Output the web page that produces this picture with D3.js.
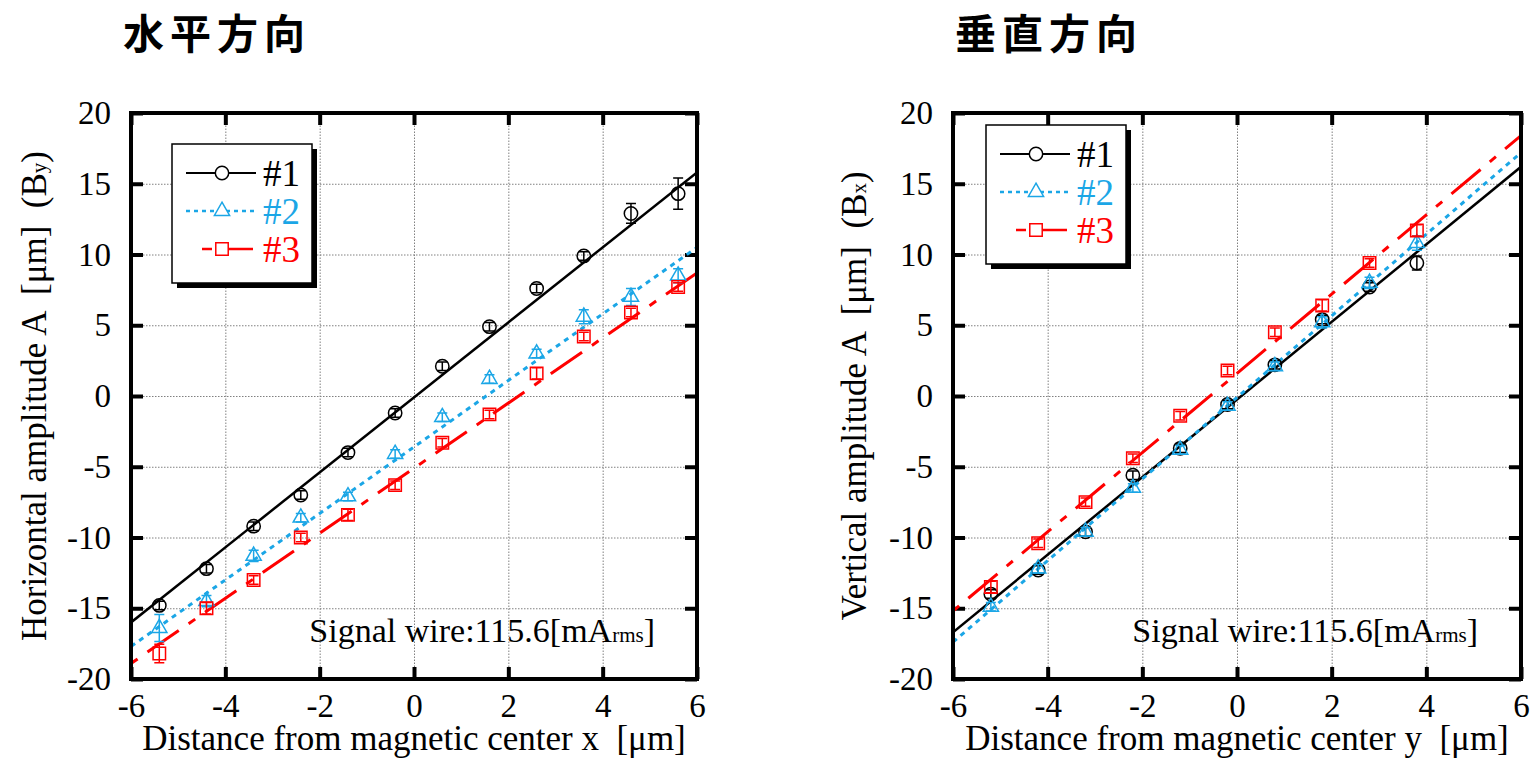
<!DOCTYPE html>
<html>
<head>
<meta charset="utf-8">
<script src="https://cdn.jsdelivr.net/npm/d3@7"></script>
<style>
  body { margin: 0; background: #fff; }
  svg { display: block; }
  .serif { font-family: "Liberation Serif", "Times New Roman", serif; white-space: pre; }
</style>
</head>
<body>
<svg id="chart" width="1533" height="760"></svg>
<script>
// ---- data ----
const seriesNames = ["#1", "#2", "#3"];
const xTicks = [-6, -4, -2, 0, 2, 4, 6];
const yTicks = [-20, -15, -10, -5, 0, 5, 10, 15, 20];

// horizontal (left panel)
const hX = [-5.4, -4.4, -3.4, -2.4, -1.4, -0.4, 0.6, 1.6, 2.6, 3.6, 4.6, 5.6];
const h1 = [-14.8, -12.2, -9.2, -7.0, -4.0, -1.2, 2.1, 4.9, 7.6, 9.9, 12.9, 14.3];
const h1Err = [0.3, 0.3, 0.3, 0.3, 0.3, 0.3, 0.3, 0.3, 0.3, 0.3, 0.7, 1.1];
const h2 = [-16.4, -14.5, -11.3, -8.6, -7.1, -4.1, -1.5, 1.2, 3.0, 5.6, 7.0, 8.5];
const h2Err = [0.95, 0.4, 0.4, 0.3, 0.3, 0.3, 0.3, 0.3, 0.3, 0.5, 0.6, 0.5];
const h3 = [-18.2, -15.0, -13.0, -10.0, -8.4, -6.3, -3.3, -1.3, 1.6, 4.2, 5.9, 7.7];
const h3Err = [0.65, 0.4, 0.3, 0.3, 0.4, 0.3, 0.3, 0.3, 0.4, 0.3, 0.3, 0.3];
// linear fits: value at x=-6 and x=6
const hFit1 = [-16.0, 15.8];
const hFit2 = [-17.7, 10.5];
const hFit3 = [-18.9, 8.7];

// vertical (right panel)
const vX = [-5.2, -4.2, -3.2, -2.2, -1.2, -0.2, 0.8, 1.8, 2.8, 3.8];
const v1 = [-14.0, -12.3, -9.6, -5.6, -3.7, -0.6, 2.2, 5.4, 7.7, 9.4];
const v1Err = [0.3, 0.3, 0.3, 0.3, 0.3, 0.3, 0.3, 0.3, 0.3, 0.5];
const v2 = [-14.9, -12.2, -9.6, -6.5, -3.8, -0.7, 2.1, 5.2, 8.0, 10.8];
const v2Err = [0.3, 0.3, 0.3, 0.3, 0.3, 0.3, 0.3, 0.4, 0.4, 0.5];
const v3 = [-13.5, -10.4, -7.5, -4.4, -1.4, 1.8, 4.5, 6.4, 9.4, 11.7];
const v3Err = [0.4, 0.3, 0.3, 0.3, 0.3, 0.3, 0.3, 0.4, 0.3, 0.4];
const vFit1 = [-16.7, 16.2];
const vFit2 = [-17.4, 17.2];
const vFit3 = [-15.2, 18.4];

const colors = ["#000000", "#1ba6e6", "#ff0000"];
const symbols = [d3.symbolCircle, d3.symbolTriangle, d3.symbolSquare];
const symbolSizes = [140, 100, 155];
const dashes = [null, "5,5", "38,12,8,12"];
const legendDashes = [null, "4,4", "0,16,10,15,26,20"];

const svg = d3.select("#chart");

function drawPanel(p) {
  const x = d3.scaleLinear().domain([-6, 6]).range([p.x0, p.x1]);
  const y = d3.scaleLinear().domain([-20, 20]).range([p.y1, p.y0]);
  const g = svg.append("g");
  const h = p.y1 - p.y0, w = p.x1 - p.x0;

  // title
  svg.append("text")
    .attr("x", p.titleX).attr("y", 49)
    .style("font-family", "'Noto Sans CJK JP', sans-serif")
    .style("font-weight", "bold")
    .style("font-size", "41px")
    .style("letter-spacing", "6px")
    .text(p.title);

  // grid
  g.append("g")
    .attr("transform", `translate(0,${p.y1})`)
    .call(d3.axisBottom(x).tickValues(xTicks.slice(1, -1)).tickSize(-h).tickFormat(""))
    .call(s => s.select(".domain").remove());
  g.append("g")
    .attr("transform", `translate(${p.x0},0)`)
    .call(d3.axisLeft(y).tickValues(yTicks.slice(1, -1)).tickSize(-w).tickFormat(""))
    .call(s => s.select(".domain").remove());
  g.selectAll(".tick line")
    .attr("stroke", "#808080")
    .attr("stroke-width", 1)
    .attr("stroke-dasharray", "1.5,1.5");

  // ticks, labels
  const tk = 12;
  const axes = g.append("g");
  axes.append("g").attr("transform", `translate(0,${p.y1})`)
    .call(d3.axisBottom(x).tickValues(xTicks).tickSize(-tk).tickPadding(15).tickFormat(d3.format("d")));
  axes.append("g").attr("transform", `translate(0,${p.y0})`)
    .call(d3.axisTop(x).tickValues(xTicks).tickSize(-tk).tickFormat(""));
  axes.append("g").attr("transform", `translate(${p.x0},0)`)
    .call(d3.axisLeft(y).tickValues(yTicks).tickSize(-tk).tickPadding(20).tickFormat(d3.format("d")));
  axes.append("g").attr("transform", `translate(${p.x1},0)`)
    .call(d3.axisRight(y).tickValues(yTicks).tickSize(-tk).tickFormat(""));
  axes.selectAll(".domain").remove();
  axes.selectAll(".tick line").attr("stroke", "#000").attr("stroke-width", 4);
  axes.selectAll(".tick text")
    .style("font-family", "'Liberation Serif', serif")
    .style("font-size", "33px")
    .attr("fill", "#000")
    .text(function () { return d3.select(this).text().replace("−", "-"); });

  // clip
  const clipId = "clip" + p.id;
  svg.append("clipPath").attr("id", clipId)
    .append("rect").attr("x", p.x0).attr("y", p.y0).attr("width", w).attr("height", h);

  const plot = g.append("g").attr("clip-path", `url(#${clipId})`);

  // fit lines
  p.fits.forEach((f, i) => {
    plot.append("line")
      .attr("x1", x(-6)).attr("y1", y(f[0]))
      .attr("x2", x(6)).attr("y2", y(f[1]))
      .attr("stroke", colors[i])
      .attr("stroke-width", i === 0 ? 2.5 : 3)
      .attr("stroke-dasharray", dashes[i])
      .attr("stroke-dashoffset", i === 2 ? 50 : 0);
  });

  // points with error bars
  p.series.forEach((s, i) => {
    const pts = p.xs.map((xv, k) => ({ x: xv, y: s.v[k], e: s.e[k] }));
    const sg = plot.append("g").attr("stroke", colors[i]).attr("fill", "none").attr("stroke-width", 1.5);
    sg.selectAll(".eb").data(pts).join("path")
      .attr("d", d => {
        const cx = x(d.x), lo = y(d.y - d.e), hi = y(d.y + d.e);
        return `M${cx - 5},${lo}H${cx + 5}M${cx},${lo}V${hi}M${cx - 5},${hi}H${cx + 5}`;
      });
    sg.selectAll(".mk").data(pts).join("path")
      .attr("transform", d => `translate(${x(d.x)},${y(d.y)})`)
      .attr("d", d3.symbol(symbols[i], symbolSizes[i]));
  });

  // frame
  g.append("rect")
    .attr("x", p.x0).attr("y", p.y0).attr("width", w).attr("height", h)
    .attr("fill", "none").attr("stroke", "#000").attr("stroke-width", 4);

  // annotation
  const ann = g.append("text").attr("class", "serif")
    .attr("x", p.annX).attr("y", 642)
    .attr("text-anchor", "end")
    .style("font-size", "34px");
  ann.append("tspan").text("Signal wire:115.6[mA");
  ann.append("tspan").style("font-size", "21px").text("rms");
  ann.append("tspan").text("]");

  // legend
  const lg = g.append("g").attr("transform", `translate(${p.lgX},${p.lgY})`);
  lg.append("rect").attr("x", 5).attr("y", 5).attr("width", 140).attr("height", 139).attr("fill", "#000");
  lg.append("rect").attr("x", 0).attr("y", 0).attr("width", 140).attr("height", 139)
    .attr("fill", "#fff").attr("stroke", "#000").attr("stroke-width", 1.5);
  seriesNames.forEach((name, i) => {
    const ry = 29 + i * 38;
    lg.append("line")
      .attr("x1", 14).attr("x2", 84).attr("y1", ry).attr("y2", ry)
      .attr("stroke", colors[i]).attr("stroke-width", i === 0 ? 2 : 2.5)
      .attr("stroke-dasharray", legendDashes[i]);
    lg.append("path")
      .attr("transform", `translate(50,${ry})`)
      .attr("d", d3.symbol(symbols[i], symbolSizes[i]))
      .attr("fill", "#fff").attr("stroke", colors[i]).attr("stroke-width", 1.5);
    lg.append("text").attr("class", "serif")
      .attr("x", 91).attr("y", ry + 13)
      .style("font-size", "37px")
      .attr("fill", colors[i])
      .text(name);
  });

  // axis titles
  g.append("text").attr("class", "serif")
    .attr("x", (p.x0 + p.x1) / 2).attr("y", 750)
    .attr("text-anchor", "middle")
    .style("font-size", "35px")
    .text(p.xTitle);

  const yt = g.append("text").attr("class", "serif")
    .attr("transform", `translate(${p.yTitleX},${(p.y0 + p.y1) / 2}) rotate(-90)`)
    .attr("text-anchor", "middle")
    .style("font-size", "35px");
  yt.append("tspan").text(p.yTitle + "  (B");
  yt.append("tspan").style("font-size", "21px").text(p.ySub);
  yt.append("tspan").text(")");
}

drawPanel({
  id: "h", title: "水平方向", titleX: 123,
  x0: 131, x1: 697, y0: 113, y1: 679,
  xs: hX,
  series: [{ v: h1, e: h1Err }, { v: h2, e: h2Err }, { v: h3, e: h3Err }],
  fits: [hFit1, hFit2, hFit3],
  annX: 655, lgX: 172, lgY: 144,
  xTitle: "Distance from magnetic center x  [μm]",
  yTitle: "Horizontal amplitude A  [μm]", ySub: "y", yTitleX: 46
});

drawPanel({
  id: "v", title: "垂直方向", titleX: 955,
  x0: 953, x1: 1521, y0: 113, y1: 679,
  xs: vX,
  series: [{ v: v1, e: v1Err }, { v: v2, e: v2Err }, { v: v3, e: v3Err }],
  fits: [vFit1, vFit2, vFit3],
  annX: 1478, lgX: 986, lgY: 125,
  xTitle: "Distance from magnetic center y  [μm]",
  yTitle: "Vertical amplitude A  [μm]", ySub: "x", yTitleX: 866
});
</script>
</body>
</html>
